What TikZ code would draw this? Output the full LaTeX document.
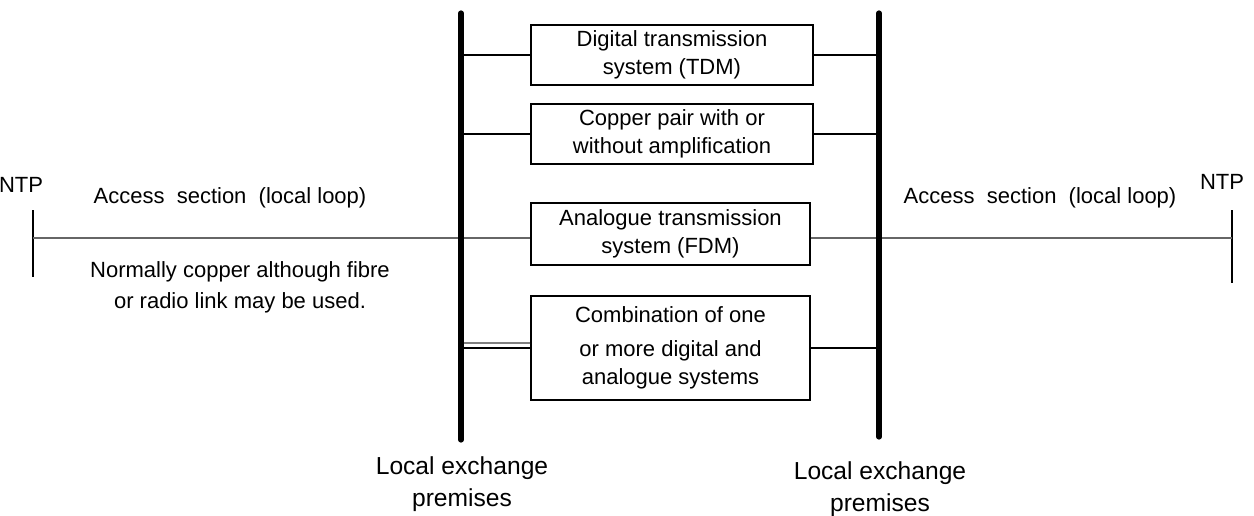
\documentclass[tikz,border=0pt]{standalone}
\usepackage{fontspec}
\setmainfont{Liberation Sans}
\usetikzlibrary{positioning}

\begin{document}
\begin{tikzpicture}[x=0.5pt,y=-0.5pt,
        sysbox/.style={draw,line width=0.6pt,minimum width=141pt,minimum height=30pt,
                       align=center,inner sep=1pt,font=\fontsize{11}{14}\selectfont},
        txt/.style={align=center,font=\fontsize{11}{16}\selectfont},
        bar/.style={line width=2.6pt,line cap=round},
        link/.style={line width=0.7pt},
        loop line/.style={line width=0.6pt,gray!80!black}]

    \useasboundingbox (0,0) rectangle (1254,515);

    % exchange bars
    \coordinate (ltop) at (461,13);
    \coordinate (lbot) at (461,440);
    \coordinate (rtop) at (879,13);
    \coordinate (rbot) at (879,437);

    % systems between the exchanges
    \node[sysbox] (tdm) at (672,55) {Digital transmission\\system (TDM)};
    \node[sysbox] (cu) at (672,134) {Copper pair with or\\without amplification};
    \node[sysbox,minimum width=139.5pt,minimum height=31pt] (fdm) at (670.5,234) {Analogue transmission\\system (FDM)};
    \node[sysbox,minimum width=139.5pt,minimum height=52pt] (mix) at (670.5,348) {Combination of one\\[3pt]or more digital and\\analogue systems};

    % network termination points
    \coordinate (ntpl) at (33,238);
    \coordinate (ntpr) at (1232,238);
    \node[txt] (ntpltxt) at (21,185) {NTP};
    \node[txt] (ntprtxt) at (1222,182) {NTP};
    \draw[link] (33,210) -- (33,277);
    \draw[link] (1232,210) -- (1232,283);

    % local loop
    \draw[loop line] (ntpl) -- (ntpl -| fdm.west);
    \draw[loop line] (fdm.east |- ntpr) -- (ntpr);

    \node[txt] (accl) at (230,198) {Access~~section~~(local loop)};
    \node[txt] (accr) at (1040,198) {Access~~section~~(local loop)};
    \node[txt,font=\fontsize{11}{15.5}\selectfont] (cutxt) at (240,287) {Normally copper although fibre\\or radio link may be used.};

    % links to the bars
    \draw[link] (tdm.west) -- (tdm.west -| ltop);
    \draw[link] (tdm.east) -- (tdm.east -| rtop);
    \draw[link] (cu.west) -- (cu.west -| ltop);
    \draw[link] (cu.east) -- (cu.east -| rtop);
    \draw[link,gray] ([yshift=2.5pt]mix.west) -- ([yshift=2.5pt]mix.west -| ltop);
    \draw[link] (mix.west) -- (mix.west -| ltop);
    \draw[link] (mix.east) -- (mix.east -| rtop);

    \draw[bar] (ltop) -- (lbot);
    \draw[bar] (rtop) -- (rbot);

    \node[txt,font=\fontsize{12.3}{16}\selectfont] (lexl) at (462,484) {Local exchange\\premises};
    \node[txt,font=\fontsize{12.3}{16}\selectfont] (lexr) at (880,489) {Local exchange\\premises};
\end{tikzpicture}
\end{document}
